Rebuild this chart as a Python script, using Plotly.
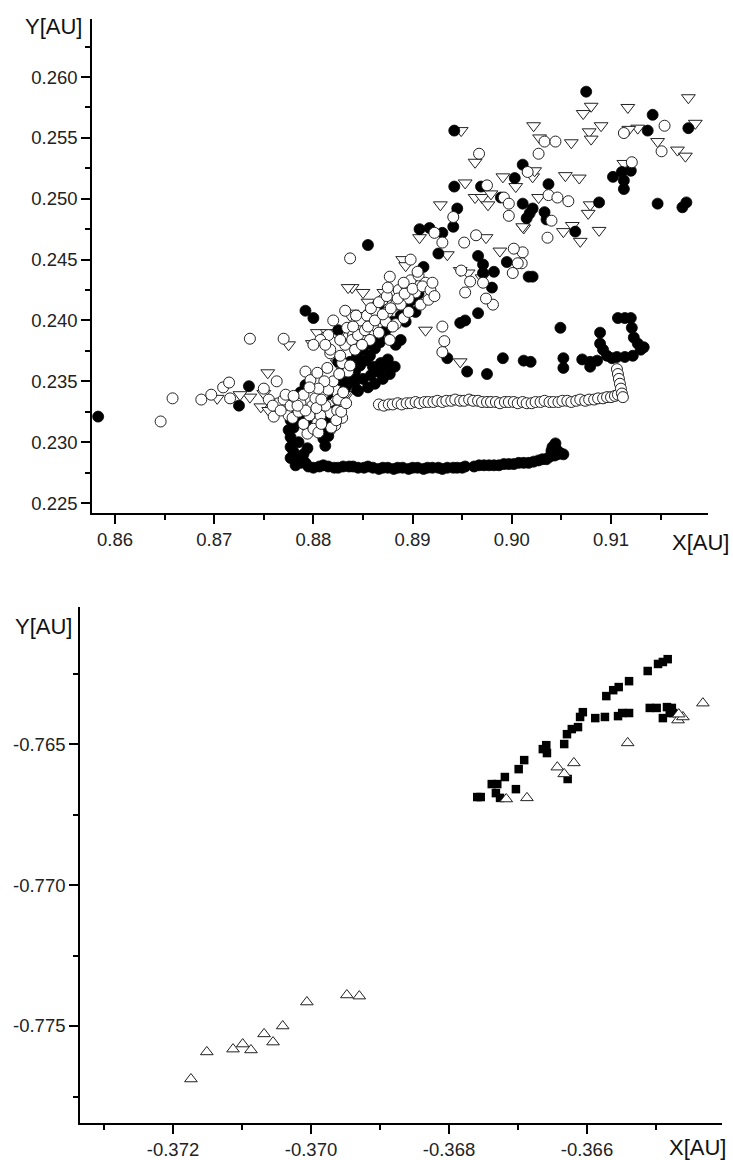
import plotly.graph_objects as go

# ---------------- top panel data (X[AU], Y[AU]) ----------------
filled_left = [
    (0.8583, 0.2321), (0.8725, 0.2330), (0.8735, 0.2346),
    (0.8777, 0.2304), (0.8780, 0.2312), (0.8777, 0.2296), (0.8777, 0.2287),
    (0.8782, 0.2288), (0.8787, 0.2318), (0.8794, 0.2295), (0.8810, 0.2303),
    (0.8782, 0.2281), (0.8787, 0.2283), (0.8780, 0.2292), (0.8785, 0.2300),
    (0.8790, 0.2290), (0.8792, 0.2283), (0.8812, 0.2297), (0.8815, 0.2305),
]
filled_band = [
    (0.8795, 0.2280), (0.8800, 0.2279), (0.8806, 0.2280), (0.8810, 0.2281),
    (0.8815, 0.2280), (0.8821, 0.2279), (0.8825, 0.2279), (0.8830, 0.2280),
    (0.8836, 0.2280), (0.8840, 0.2280), (0.8845, 0.2279), (0.8851, 0.2279),
    (0.8855, 0.2280), (0.8860, 0.2279), (0.8866, 0.2278), (0.8870, 0.2279),
    (0.8875, 0.2279), (0.8881, 0.2278), (0.8885, 0.2279), (0.8890, 0.2279),
    (0.8896, 0.2278), (0.8900, 0.2279), (0.8905, 0.2279), (0.8911, 0.2278),
    (0.8915, 0.2279), (0.8920, 0.2279), (0.8926, 0.2279), (0.8930, 0.2278),
    (0.8935, 0.2279), (0.8941, 0.2279), (0.8945, 0.2279), (0.8950, 0.2279),
    (0.8953, 0.2280),
    (0.8962, 0.2280), (0.8967, 0.2281), (0.8972, 0.2281), (0.8977, 0.2281),
    (0.8982, 0.2281), (0.8987, 0.2281), (0.8992, 0.2282), (0.8997, 0.2282),
    (0.9002, 0.2282), (0.9007, 0.2283), (0.9012, 0.2283), (0.9017, 0.2283),
    (0.9022, 0.2284), (0.9027, 0.2285), (0.9031, 0.2286), (0.9035, 0.2286),
    (0.9038, 0.2288), (0.9041, 0.2290), (0.9044, 0.2299), (0.9041, 0.2296),
    (0.9045, 0.2294), (0.9049, 0.2291), (0.9043, 0.2289), (0.9046, 0.2290),
    (0.9052, 0.2290), (0.9040, 0.2293),
]
filled_right = [
    (0.9049, 0.2394), (0.9052, 0.2369), (0.9052, 0.2361), (0.9071, 0.2368),
    (0.9079, 0.2366), (0.9079, 0.2362), (0.9089, 0.2390), (0.9089, 0.2381),
    (0.9092, 0.2376), (0.9096, 0.2371), (0.9106, 0.2370), (0.9107, 0.2402),
    (0.9114, 0.2402), (0.9120, 0.2402), (0.9121, 0.2394), (0.9123, 0.2386),
    (0.9127, 0.2381), (0.9133, 0.2378), (0.9130, 0.2376), (0.9122, 0.2371),
    (0.9114, 0.2370), (0.9101, 0.2369), (0.9086, 0.2367), (0.8991, 0.2369),
    (0.9012, 0.2367), (0.9019, 0.2366), (0.8955, 0.2358), (0.8975, 0.2356),
    (0.8948, 0.2398), (0.8953, 0.2400), (0.8935, 0.2369), (0.8966, 0.2406),
    (0.8980, 0.2427),
]
filled_upper = [
    (0.9075, 0.2588), (0.9142, 0.2569), (0.9137, 0.2556), (0.9178, 0.2558),
    (0.9102, 0.2518), (0.9111, 0.2522), (0.9120, 0.2523), (0.9113, 0.2515),
    (0.9113, 0.2508), (0.9147, 0.2496), (0.9172, 0.2493), (0.9176, 0.2497),
    (0.9088, 0.2497), (0.9037, 0.2512), (0.9011, 0.2528), (0.9011, 0.2496),
    (0.9021, 0.2492), (0.9018, 0.2488), (0.9015, 0.2484), (0.9033, 0.2489),
    (0.9035, 0.2483), (0.9064, 0.2473), (0.9021, 0.2436), (0.8942, 0.2556),
    (0.9003, 0.2517), (0.8942, 0.2510), (0.8969, 0.2510), (0.8989, 0.2501),
    (0.8945, 0.2492), (0.8941, 0.2477), (0.8907, 0.2475), (0.8917, 0.2476),
    (0.8930, 0.2472), (0.8926, 0.2455), (0.8855, 0.2462), (0.8966, 0.2453),
    (0.8971, 0.2446), (0.8995, 0.2448), (0.8982, 0.2440), (0.8971, 0.2439),
    (0.8911, 0.2444), (0.9017, 0.2436), (0.8792, 0.2408), (0.8800, 0.2402),
    (0.8825, 0.2392), (0.8825, 0.2366), (0.8837, 0.2351), (0.8844, 0.2343),
    (0.8855, 0.2405), (0.8866, 0.2413),
]
filled_cluster = [
    (0.8779, 0.2326), (0.8783, 0.2335), (0.8787, 0.2341), (0.8792, 0.2347),
    (0.8777, 0.2318), (0.8775, 0.2310), (0.8792, 0.2314), (0.8799, 0.2320),
    (0.8807, 0.2330), (0.8814, 0.2339), (0.8812, 0.2310), (0.8817, 0.2318),
    (0.8822, 0.2326), (0.8827, 0.2336), (0.8832, 0.2344), (0.8842, 0.2358),
    (0.8827, 0.2351), (0.8832, 0.2359), (0.8837, 0.2366), (0.8844, 0.2371),
    (0.8850, 0.2376), (0.8857, 0.2381), (0.8866, 0.2386), (0.8873, 0.2392),
    (0.8880, 0.2399), (0.8888, 0.2404), (0.8895, 0.2411), (0.8900, 0.2417),
    (0.8906, 0.2422), (0.8893, 0.2399), (0.8903, 0.2407), (0.8857, 0.2371),
    (0.8862, 0.2377), (0.8867, 0.2382), (0.8847, 0.2363), (0.8852, 0.2367),
    (0.8883, 0.2380), (0.8888, 0.2384),
    (0.8835, 0.2348), (0.8842, 0.2350), (0.8850, 0.2352), (0.8858, 0.2355),
    (0.8866, 0.2358), (0.8873, 0.2362), (0.8845, 0.2342), (0.8855, 0.2345),
    (0.8862, 0.2348), (0.8870, 0.2352), (0.8877, 0.2356), (0.8882, 0.2362),
    (0.8875, 0.2368), (0.8868, 0.2365), (0.8860, 0.2362), (0.8840, 0.2355),
]

open_band = [
    (0.8866, 0.2331), (0.8871, 0.2330),
    (0.8876, 0.2331), (0.8880, 0.2331), (0.8885, 0.2332), (0.8889, 0.2331),
    (0.8894, 0.2332), (0.8898, 0.2332), (0.8903, 0.2333), (0.8907, 0.2332),
    (0.8912, 0.2333), (0.8916, 0.2333), (0.8921, 0.2333), (0.8925, 0.2334),
    (0.8930, 0.2333), (0.8934, 0.2334), (0.8939, 0.2334), (0.8943, 0.2335),
    (0.8948, 0.2334), (0.8952, 0.2334), (0.8957, 0.2335), (0.8961, 0.2334),
    (0.8966, 0.2334), (0.8970, 0.2333), (0.8975, 0.2333), (0.8979, 0.2333),
    (0.8984, 0.2333), (0.8988, 0.2332), (0.8993, 0.2333), (0.8997, 0.2333),
    (0.9002, 0.2333), (0.9006, 0.2332), (0.9011, 0.2333), (0.9015, 0.2332),
    (0.9020, 0.2332), (0.9024, 0.2333), (0.9029, 0.2333), (0.9033, 0.2334),
    (0.9038, 0.2333), (0.9042, 0.2333), (0.9047, 0.2333), (0.9051, 0.2334),
    (0.9056, 0.2334), (0.9060, 0.2333), (0.9065, 0.2334), (0.9069, 0.2335),
    (0.9074, 0.2334), (0.9078, 0.2335), (0.9083, 0.2335), (0.9087, 0.2336),
    (0.9092, 0.2336), (0.9096, 0.2337), (0.9100, 0.2337), (0.9104, 0.2338),
    (0.9107, 0.2339), (0.9106, 0.2360), (0.9107, 0.2356), (0.9108, 0.2352),
    (0.9109, 0.2348), (0.9110, 0.2344), (0.9111, 0.2340), (0.9112, 0.2337),
]
open_left = [
    (0.8646, 0.2317), (0.8658, 0.2336), (0.8687, 0.2335), (0.8697, 0.2339),
    (0.8709, 0.2345), (0.8715, 0.2349), (0.8716, 0.2336), (0.8736, 0.2385),
    (0.8770, 0.2385), (0.8750, 0.2344), (0.8763, 0.2350), (0.8760, 0.2321),
    (0.8775, 0.2322), (0.8765, 0.2332), (0.8770, 0.2335), (0.8755, 0.2335),
    (0.8759, 0.2330), (0.8767, 0.2326), (0.8777, 0.2330), (0.8782, 0.2336),
    (0.8772, 0.2339), (0.8779, 0.2320), (0.8785, 0.2325), (0.8787, 0.2332),
    (0.8790, 0.2339), (0.8792, 0.2358), (0.8797, 0.2351), (0.8804, 0.2357),
    (0.8814, 0.2361), (0.8820, 0.2400), (0.8834, 0.2394), (0.8829, 0.2365),
    (0.8835, 0.2358), (0.8817, 0.2373), (0.8840, 0.2388), (0.8817, 0.2376),
    (0.8810, 0.2340), (0.8794, 0.2307), (0.8804, 0.2316), (0.8817, 0.2324),
    (0.8824, 0.2326), (0.8800, 0.2311), (0.8805, 0.2308), (0.8807, 0.2322),
    (0.8812, 0.2330), (0.8799, 0.2330), (0.8802, 0.2336), (0.8825, 0.2335),
    (0.8830, 0.2341), (0.8822, 0.2314), (0.8829, 0.2320), (0.8837, 0.2451),
]
open_cluster = [
    (0.8832, 0.2380), (0.8839, 0.2384), (0.8845, 0.2388), (0.8852, 0.2392),
    (0.8860, 0.2396), (0.8868, 0.2402), (0.8875, 0.2407), (0.8883, 0.2413),
    (0.8847, 0.2400), (0.8854, 0.2404), (0.8862, 0.2408), (0.8870, 0.2417),
    (0.8878, 0.2421), (0.8886, 0.2425), (0.8893, 0.2429), (0.8898, 0.2433),
    (0.8906, 0.2437), (0.8913, 0.2431), (0.8903, 0.2423), (0.8896, 0.2418),
    (0.8888, 0.2413), (0.8857, 0.2384), (0.8866, 0.2390), (0.8873, 0.2399),
    (0.8842, 0.2376), (0.8849, 0.2380), (0.8827, 0.2371), (0.8837, 0.2363),
    (0.8832, 0.2408), (0.8827, 0.2384),
    (0.8815, 0.2388), (0.8807, 0.2384), (0.8800, 0.2380), (0.8812, 0.2380),
    (0.8883, 0.2397), (0.8891, 0.2402), (0.8896, 0.2407), (0.8877, 0.2384),
    (0.8908, 0.2413), (0.8916, 0.2417),
    (0.8790, 0.2315), (0.8796, 0.2322), (0.8803, 0.2328), (0.8808, 0.2335),
    (0.8815, 0.2343), (0.8820, 0.2350), (0.8826, 0.2356),
    (0.8818, 0.2312), (0.8823, 0.2318), (0.8828, 0.2325), (0.8833, 0.2332),
    (0.8811, 0.2350), (0.8805, 0.2344), (0.8796, 0.2345),
    (0.8792, 0.2326), (0.8808, 0.2315), (0.8784, 0.2330), (0.8780, 0.2338),
    (0.8855, 0.2395), (0.8862, 0.2400), (0.8870, 0.2405), (0.8878, 0.2410),
    (0.8885, 0.2418), (0.8892, 0.2422), (0.8900, 0.2426), (0.8910, 0.2428),
    (0.8918, 0.2425), (0.8922, 0.2420), (0.8880, 0.2395), (0.8840, 0.2395),
    (0.8858, 0.2410), (0.8866, 0.2415), (0.8874, 0.2420), (0.8843, 0.2404),
]
open_upper = [
    (0.9154, 0.2560), (0.9113, 0.2554), (0.9121, 0.2530), (0.9151, 0.2539),
    (0.9033, 0.2547), (0.9044, 0.2547), (0.9027, 0.2537), (0.9016, 0.2522),
    (0.9037, 0.2503), (0.9046, 0.2501), (0.9057, 0.2498), (0.9040, 0.2482),
    (0.9036, 0.2468), (0.9011, 0.2456), (0.9010, 0.2447), (0.8967, 0.2537),
    (0.8975, 0.2511), (0.8992, 0.2501), (0.8997, 0.2496), (0.8997, 0.2486),
    (0.8941, 0.2485), (0.8922, 0.2472), (0.8930, 0.2464), (0.8964, 0.2470),
    (0.8952, 0.2464), (0.8898, 0.2450), (0.9002, 0.2459), (0.9006, 0.2447),
    (0.9001, 0.2439), (0.8949, 0.2441), (0.8877, 0.2436), (0.8905, 0.2440),
    (0.8981, 0.2413), (0.8974, 0.2418), (0.8891, 0.2431), (0.8875, 0.2427),
    (0.8920, 0.2431), (0.8930, 0.2395), (0.8932, 0.2383), (0.8930, 0.2374),
    (0.8958, 0.2432), (0.8953, 0.2423), (0.8971, 0.2431),
]

triangles_top = [
    (0.9178, 0.2583), (0.9117, 0.2575), (0.9080, 0.2576), (0.9072, 0.2570),
    (0.9090, 0.2560), (0.9022, 0.2560), (0.9028, 0.2550), (0.9060, 0.2546),
    (0.9078, 0.2555), (0.9080, 0.2549), (0.9127, 0.2558), (0.9118, 0.2557),
    (0.9185, 0.2562), (0.9147, 0.2547), (0.9167, 0.2540), (0.9175, 0.2535),
    (0.9113, 0.2529), (0.9054, 0.2519), (0.9068, 0.2517), (0.9021, 0.2518),
    (0.9023, 0.2523), (0.9027, 0.2501), (0.9079, 0.2495), (0.9077, 0.2488),
    (0.9088, 0.2474), (0.9052, 0.2473), (0.9061, 0.2478), (0.9069, 0.2465),
    (0.9012, 0.2476), (0.8949, 0.2556), (0.8963, 0.2530), (0.8953, 0.2513),
    (0.8991, 0.2518), (0.9004, 0.2510), (0.8963, 0.2501), (0.8970, 0.2501),
    (0.8979, 0.2504), (0.8976, 0.2495), (0.8928, 0.2495), (0.8907, 0.2468),
    (0.8974, 0.2468), (0.9011, 0.2477), (0.8988, 0.2457), (0.8890, 0.2450),
    (0.8893, 0.2445), (0.8850, 0.2423), (0.8871, 0.2423), (0.8839, 0.2427),
    (0.8948, 0.2441), (0.8956, 0.2439), (0.8970, 0.2435), (0.8948, 0.2366),
    (0.8913, 0.2392), (0.8898, 0.2431), (0.8935, 0.2454), (0.8835, 0.2427),
    (0.8839, 0.2406), (0.8804, 0.2390), (0.8814, 0.2390), (0.8799, 0.2381),
    (0.8775, 0.2380), (0.8754, 0.2357), (0.8736, 0.2337), (0.8747, 0.2329),
    (0.8755, 0.2326), (0.8750, 0.2340), (0.8703, 0.2336), (0.8834, 0.2339),
    (0.8824, 0.2365), (0.8827, 0.2390), (0.8837, 0.2404), (0.8845, 0.2404),
    (0.8855, 0.2415), (0.8822, 0.2390), (0.8787, 0.2318), (0.8797, 0.2314),
    (0.8807, 0.2310), (0.8817, 0.2308), (0.8822, 0.2335), (0.8832, 0.2339),
    (0.8767, 0.2333), (0.8762, 0.2328), (0.8726, 0.2339),
]

# ---------------- bottom panel data ----------------
squares_bottom = [
    (-0.36754, -0.76688), (-0.36759, -0.76688), (-0.36738, -0.76642),
    (-0.36730, -0.76642), (-0.36719, -0.76617), (-0.36732, -0.76674),
    (-0.36726, -0.76691), (-0.36703, -0.76660), (-0.36699, -0.76589),
    (-0.36691, -0.76557), (-0.36664, -0.76518), (-0.36659, -0.76504),
    (-0.36658, -0.76532), (-0.36633, -0.76500), (-0.36629, -0.76465),
    (-0.36622, -0.76447), (-0.36613, -0.76440), (-0.36610, -0.76404),
    (-0.36606, -0.76387), (-0.36628, -0.76624), (-0.36588, -0.76408),
    (-0.36574, -0.76404), (-0.36555, -0.76401), (-0.36549, -0.76390),
    (-0.36539, -0.76390), (-0.36572, -0.76330), (-0.36562, -0.76309),
    (-0.36554, -0.76298), (-0.36539, -0.76277), (-0.36512, -0.76241),
    (-0.36497, -0.76216), (-0.36490, -0.76209), (-0.36483, -0.76199),
    (-0.36509, -0.76372), (-0.36499, -0.76372), (-0.36484, -0.76369),
    (-0.36477, -0.76372), (-0.36475, -0.76390), (-0.36490, -0.76408),
    (-0.36480, -0.76390),
]
triangles_bottom = [
    (-0.36717, -0.76695), (-0.36687, -0.76691), (-0.36643, -0.76582),
    (-0.36633, -0.76606), (-0.36619, -0.76567), (-0.36541, -0.76496),
    (-0.36468, -0.76415), (-0.36461, -0.76404), (-0.36467, -0.76394),
    (-0.36432, -0.76355), (-0.37174, -0.77688), (-0.37151, -0.77592),
    (-0.37113, -0.77582), (-0.37099, -0.77564), (-0.37087, -0.77585),
    (-0.37068, -0.77528), (-0.37055, -0.77557), (-0.37041, -0.77500),
    (-0.37006, -0.77415), (-0.36948, -0.77390), (-0.36930, -0.77394),
]

top_x_ticks = [0.86, 0.87, 0.88, 0.89, 0.90, 0.91]
top_x_labels = ["0.86", "0.87", "0.88", "0.89", "0.90", "0.91"]
top_y_ticks = [0.225, 0.230, 0.235, 0.240, 0.245, 0.250, 0.255, 0.260]
top_y_labels = ["0.225", "0.230", "0.235", "0.240", "0.245", "0.250", "0.255", "0.260"]
bot_x_ticks = [-0.372, -0.370, -0.368, -0.366]
bot_x_labels = ["-0.372", "-0.370", "-0.368", "-0.366"]
bot_y_ticks = [-0.775, -0.770, -0.765]
bot_y_labels = ["-0.775", "-0.770", "-0.765"]


def xs(pts):
    return [p[0] for p in pts]


def ys(pts):
    return [p[1] for p in pts]


filled_all = filled_left + filled_band + filled_right + filled_upper + filled_cluster
open_all = open_band + open_left + open_cluster + open_upper

W, H = 733, 1160
fig = go.Figure()

fig.add_trace(go.Scatter(
    x=xs(triangles_top), y=ys(triangles_top), mode="markers", xaxis="x", yaxis="y",
    marker=dict(symbol="triangle-down", size=12, color="white",
                line=dict(color="#222222", width=1)), showlegend=False))
fig.add_trace(go.Scatter(
    x=xs(filled_all), y=ys(filled_all), mode="markers", xaxis="x", yaxis="y",
    marker=dict(symbol="circle", size=11, color="black",
                line=dict(color="black", width=0.8)), showlegend=False))
fig.add_trace(go.Scatter(
    x=xs(open_all), y=ys(open_all), mode="markers", xaxis="x", yaxis="y",
    marker=dict(symbol="circle", size=11, color="white",
                line=dict(color="#222222", width=1)), showlegend=False))

fig.add_trace(go.Scatter(
    x=xs(squares_bottom), y=ys(squares_bottom), mode="markers", xaxis="x2", yaxis="y2",
    marker=dict(symbol="square", size=8.5, color="black",
                line=dict(color="black", width=0)), showlegend=False))
fig.add_trace(go.Scatter(
    x=xs(triangles_bottom), y=ys(triangles_bottom), mode="markers", xaxis="x2", yaxis="y2",
    marker=dict(symbol="triangle-up", size=11, color="white",
                line=dict(color="#222222", width=1)), showlegend=False))

tickfont = dict(family="Liberation Sans, Arial, sans-serif", size=18.5, color="#222222")
axis_common = dict(
    showline=True, linecolor="black", linewidth=1.6, mirror=False,
    showgrid=False, zeroline=False, ticks="outside", ticklen=9, tickwidth=1.5,
    tickcolor="black", tickfont=tickfont, tickmode="array",
)

fig.update_layout(
    width=W, height=H, margin=dict(l=0, r=0, t=0, b=0),
    paper_bgcolor="white", plot_bgcolor="white",
    xaxis=dict(axis_common, domain=[92 / W, 708 / W], range=[0.85768, 0.91978],
               tickvals=top_x_ticks, ticktext=top_x_labels, anchor="y",
               minor=dict(tickmode="linear", tick0=0.855, dtick=0.01, ticks="outside",
                          ticklen=5, tickwidth=1.5, tickcolor="black")),
    yaxis=dict(axis_common, domain=[1 - 513 / H, 1 - 19 / H], range=[0.22418, 0.26477],
               tickvals=top_y_ticks, ticktext=top_y_labels, anchor="x",
               minor=dict(tickmode="linear", tick0=0.2225, dtick=0.005, ticks="outside",
                          ticklen=5, tickwidth=1.5, tickcolor="black")),
    xaxis2=dict(axis_common, domain=[80 / W, 722 / W], range=[-0.373348, -0.364043],
                tickvals=bot_x_ticks, ticktext=bot_x_labels, anchor="y2",
                minor=dict(tickmode="linear", tick0=-0.373, dtick=0.002, ticks="outside",
                           ticklen=5, tickwidth=1.5, tickcolor="black")),
    yaxis2=dict(axis_common, domain=[1 - 1123 / H, 1 - 607 / H], range=[-0.77844, -0.76014],
                tickvals=bot_y_ticks, ticktext=bot_y_labels, anchor="x2",
                minor=dict(tickmode="linear", tick0=-0.7775, dtick=0.005, ticks="outside",
                           ticklen=5, tickwidth=1.5, tickcolor="black")),
)

title_font = dict(family="Liberation Sans, Arial, sans-serif", size=22, color="#111111")
ann = [
    ("Y[AU]", 84, 27, "right"),
    ("X[AU]", 731, 542, "right"),
    ("Y[AU]", 74, 626, "right"),
    ("X[AU]", 728, 1147, "right"),
]
for text, px, py, xa in ann:
    fig.add_annotation(text=text, x=px / W, y=1 - py / H, xref="paper", yref="paper",
                       xanchor=xa, yanchor="middle", showarrow=False, font=title_font)

fig.write_html("out.html")
